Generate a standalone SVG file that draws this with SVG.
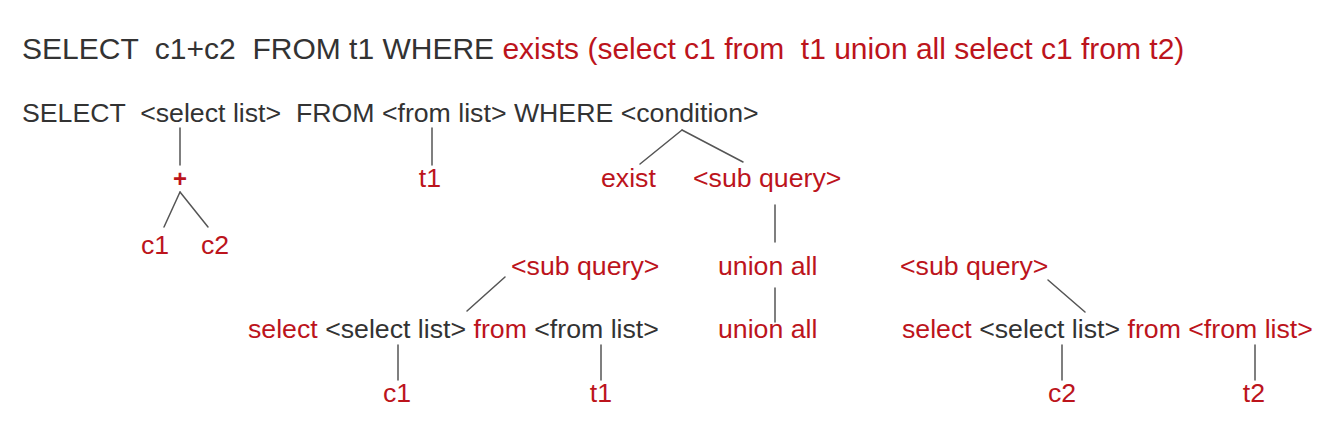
<svg xmlns="http://www.w3.org/2000/svg" width="1340" height="431" viewBox="0 0 1340 431">
<style>
text { font-family: "Liberation Sans", Arial, sans-serif; font-size: 26.7px; fill: #333333; white-space: pre; }
.title { font-size: 30px; }
.r { fill: #bc141c; }
.k { fill: #333333; }
.plus { font-weight: bold; font-size: 24px; }
#connectors line { stroke: #555555; stroke-width: 1.5; stroke-linecap: round; }
</style>
<rect width="1340" height="431" fill="#ffffff"/>
<g id="title">
<text class="title" x="22" y="59" xml:space="preserve"><tspan class="k">SELECT  c1+c2  FROM t1 WHERE </tspan><tspan class="r">exists (select c1 from  t1 union all select c1 from t2)</tspan></text>
</g>
<g id="query">
<text x="22" y="122" xml:space="preserve">SELECT  &lt;select list&gt;  FROM &lt;from list&gt; WHERE &lt;condition&gt;</text>
</g>
<g id="connectors">
<line x1="180" y1="128" x2="180" y2="165"/>
<line x1="180" y1="192" x2="164" y2="227"/>
<line x1="180" y1="192" x2="208" y2="227"/>
<line x1="432" y1="128" x2="432" y2="165"/>
<line x1="682" y1="130" x2="640" y2="164"/>
<line x1="682" y1="130" x2="743" y2="162"/>
<line x1="775" y1="205" x2="775" y2="242"/>
<line x1="775" y1="288" x2="775" y2="322"/>
<line x1="505" y1="277" x2="467" y2="311"/>
<line x1="398" y1="345" x2="398" y2="380"/>
<line x1="601" y1="345" x2="601" y2="380"/>
<line x1="1048" y1="280" x2="1085" y2="312"/>
<line x1="1062" y1="345" x2="1062" y2="380"/>
<line x1="1255" y1="345" x2="1255" y2="380"/>
</g>
<g id="plus"><text class="r plus" x="180" y="187" text-anchor="middle">+</text></g>
<g id="c1a"><text class="r" x="141" y="254">c1</text></g>
<g id="c2a"><text class="r" x="201" y="254">c2</text></g>
<g id="t1a"><text class="r" x="430" y="187" text-anchor="middle">t1</text></g>
<g id="exist"><text class="r" x="601" y="187">exist</text></g>
<g id="subquery1"><text class="r" x="693" y="187">&lt;sub query&gt;</text></g>
<g id="subquery2"><text class="r" x="511" y="275">&lt;sub query&gt;</text></g>
<g id="unionall1"><text class="r" x="718" y="275">union all</text></g>
<g id="subquery3"><text class="r" x="900" y="275">&lt;sub query&gt;</text></g>
<g id="select1"><text x="248" y="338" xml:space="preserve"><tspan class="r">select </tspan><tspan class="k">&lt;select list&gt; </tspan><tspan class="r">from </tspan><tspan class="k">&lt;from list&gt;</tspan></text></g>
<g id="unionall2"><text class="r" x="718" y="338">union all</text></g>
<g id="select2"><text x="902" y="338" xml:space="preserve"><tspan class="r">select </tspan><tspan class="k">&lt;select list&gt; </tspan><tspan class="r">from &lt;from list&gt;</tspan></text></g>
<g id="c1b"><text class="r" x="397" y="402" text-anchor="middle">c1</text></g>
<g id="t1b"><text class="r" x="601" y="402" text-anchor="middle">t1</text></g>
<g id="c2b"><text class="r" x="1062" y="402" text-anchor="middle">c2</text></g>
<g id="t2b"><text class="r" x="1254" y="402" text-anchor="middle">t2</text></g>
</svg>
